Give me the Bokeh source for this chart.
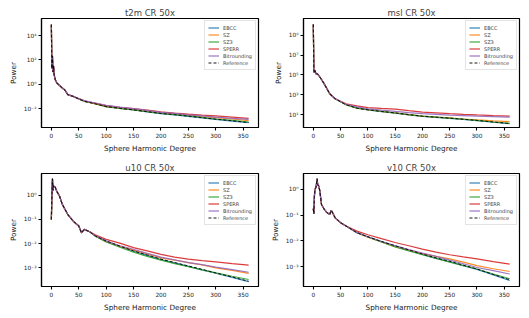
from bokeh.plotting import figure
from bokeh.layouts import gridplot
from bokeh.models import FixedTicker, CustomJSTickFormatter, Range1d, Legend, LegendItem
from bokeh.embed import file_html
from bokeh.resources import INLINE

# ---------------- data ----------------
methods = ["EBCC", "SZ", "SZ3", "SPERR", "Bitrounding", "Reference"]
method_colors = ["#1f77b4", "#ff7f0e", "#2ca02c", "#d62728", "#9467bd", "#000000"]
x_ticks = [0, 50, 100, 150, 200, 250, 300, 350]

t2m_degree = [0, 1, 2, 3, 4, 5, 7, 10, 15, 20, 25, 30, 40, 50, 60, 70, 80, 100, 125, 150, 175, 200, 225, 250, 275, 300, 330, 360]
t2m_ebcc = [7.9e4, 20, 200, 10, 32, 6.3, 2.5, 1.26, 0.79, 0.5, 0.32, 0.14, 0.1, 0.063, 0.04, 0.032, 0.025, 0.0146, 0.0105, 0.0078, 0.0055, 0.0039, 0.0031, 0.0023, 0.0017, 0.0013, 0.00095, 0.0007]
t2m_sz = [7.9e4, 20, 200, 10, 32, 6.3, 2.5, 1.26, 0.79, 0.5, 0.32, 0.14, 0.1, 0.063, 0.04, 0.031, 0.024, 0.0142, 0.0105, 0.0081, 0.006, 0.0045, 0.0037, 0.0029, 0.0022, 0.0018, 0.0014, 0.00105]
t2m_sz3 = [7.9e4, 20, 200, 10, 32, 6.3, 2.5, 1.26, 0.79, 0.5, 0.32, 0.14, 0.1, 0.063, 0.04, 0.032, 0.025, 0.0146, 0.0106, 0.0079, 0.0056, 0.0041, 0.0032, 0.0025, 0.0019, 0.0014, 0.0011, 0.0008]
t2m_sperr = [7.9e4, 20, 200, 10, 32, 6.3, 2.5, 1.26, 0.79, 0.5, 0.32, 0.14, 0.1, 0.066, 0.044, 0.035, 0.028, 0.0175, 0.013, 0.01, 0.0075, 0.0054, 0.0043, 0.0035, 0.0029, 0.0025, 0.002, 0.0016]
t2m_bitrounding = [7.9e4, 20, 200, 10, 32, 6.3, 2.5, 1.26, 0.79, 0.5, 0.32, 0.14, 0.1, 0.066, 0.045, 0.036, 0.029, 0.019, 0.0135, 0.01, 0.0072, 0.005, 0.004, 0.0031, 0.0025, 0.002, 0.0016, 0.0013]
t2m_reference = [7.9e4, 20, 200, 10, 32, 6.3, 2.5, 1.26, 0.79, 0.5, 0.32, 0.14, 0.1, 0.063, 0.04, 0.032, 0.025, 0.0148, 0.0107, 0.0079, 0.0056, 0.004, 0.0032, 0.0024, 0.0018, 0.00135, 0.001, 0.00072]
t2m_yticks = [1e-2, 1e0, 1e2, 1e4]

msl_degree = [0, 1, 2, 3, 5, 7, 10, 15, 20, 25, 30, 40, 50, 60, 80, 100, 125, 150, 175, 200, 225, 250, 275, 300, 330, 360]
msl_ebcc = [1.26e10, 3.2e5, 1.6e5, 2.8e5, 1.26e5, 1.4e5, 8.9e4, 3.5e4, 1.26e4, 4.0e3, 1.26e3, 400, 200, 100, 44, 30, 20, 14.2, 9.6, 6.6, 5.3, 4.2, 3.3, 2.5, 1.7, 1.2]
msl_sz = [1.26e10, 3.2e5, 1.6e5, 2.8e5, 1.26e5, 1.4e5, 8.9e4, 3.5e4, 1.26e4, 4.0e3, 1.26e3, 400, 200, 100, 45, 31, 21, 14.8, 10.2, 7.0, 5.6, 4.6, 3.6, 2.9, 2.3, 1.95]
msl_sz3 = [1.26e10, 3.2e5, 1.6e5, 2.8e5, 1.26e5, 1.4e5, 8.9e4, 3.5e4, 1.26e4, 4.0e3, 1.26e3, 400, 200, 100, 45, 31, 21, 14.6, 10, 6.9, 5.5, 4.4, 3.4, 2.6, 1.8, 1.3]
msl_sperr = [1.26e10, 3.2e5, 1.6e5, 2.8e5, 1.26e5, 1.4e5, 8.9e4, 3.5e4, 1.26e4, 4.0e3, 1.26e3, 400, 224, 126, 76, 51, 42, 35.5, 25, 18.2, 15.1, 12.6, 10.7, 9.3, 7.9, 6.9]
msl_bitrounding = [1.26e10, 3.2e5, 1.6e5, 2.8e5, 1.26e5, 1.4e5, 8.9e4, 3.5e4, 1.26e4, 4.0e3, 1.26e3, 400, 214, 112, 60, 38, 28, 21, 15.8, 12.6, 10.5, 8.7, 7.8, 6.9, 6.2, 5.5]
msl_reference = [1.26e10, 3.2e5, 1.6e5, 2.8e5, 1.26e5, 1.4e5, 8.9e4, 3.5e4, 1.26e4, 4.0e3, 1.26e3, 400, 200, 100, 45, 31, 21, 14.8, 10, 6.9, 5.5, 4.4, 3.4, 2.6, 1.8, 1.26]
msl_yticks = [1e1, 1e3, 1e5, 1e7, 1e9]

u10_degree = [0, 1, 2, 3, 4, 5, 7, 8, 10, 15, 20, 25, 30, 40, 50, 55, 60, 70, 80, 100, 125, 150, 175, 200, 225, 250, 275, 300, 330, 360]
u10_ebcc = [0.1, 1.0, 4.8, 1.6, 2.5, 2.1, 2.2, 1.86, 1.45, 0.91, 0.42, 0.26, 0.16, 0.085, 0.054, 0.028, 0.039, 0.031, 0.021, 0.0127, 0.0078, 0.0049, 0.0033, 0.0022, 0.0016, 0.00115, 0.00083, 0.0006, 0.0004, 0.00027]
u10_sz = [0.1, 1.0, 4.8, 1.6, 2.5, 2.1, 2.2, 1.86, 1.45, 0.91, 0.42, 0.26, 0.16, 0.085, 0.054, 0.028, 0.039, 0.031, 0.021, 0.012, 0.0079, 0.0054, 0.0038, 0.0026, 0.0021, 0.00166, 0.00132, 0.001, 0.00079, 0.00059]
u10_sz3 = [0.1, 1.0, 4.8, 1.6, 2.5, 2.1, 2.2, 1.86, 1.45, 0.91, 0.42, 0.26, 0.16, 0.085, 0.054, 0.028, 0.039, 0.031, 0.0205, 0.0117, 0.0071, 0.0044, 0.003, 0.0021, 0.0015, 0.00112, 0.00083, 0.00062, 0.00045, 0.00033]
u10_sperr = [0.1, 1.0, 4.8, 1.6, 2.5, 2.1, 2.2, 1.86, 1.45, 0.91, 0.42, 0.26, 0.16, 0.085, 0.054, 0.028, 0.039, 0.031, 0.0234, 0.0151, 0.0105, 0.0069, 0.005, 0.0036, 0.0028, 0.0023, 0.002, 0.00178, 0.0015, 0.00129]
u10_bitrounding = [0.1, 1.0, 4.8, 1.6, 2.5, 2.1, 2.2, 1.86, 1.45, 0.91, 0.42, 0.26, 0.16, 0.085, 0.054, 0.028, 0.039, 0.031, 0.021, 0.0128, 0.0082, 0.0059, 0.004, 0.0028, 0.00214, 0.00166, 0.00135, 0.00107, 0.00085, 0.00066]
u10_reference = [0.1, 1.0, 4.8, 1.6, 2.5, 2.1, 2.2, 1.86, 1.45, 0.91, 0.42, 0.26, 0.16, 0.085, 0.054, 0.028, 0.039, 0.031, 0.021, 0.0129, 0.0079, 0.005, 0.0034, 0.0023, 0.00166, 0.0012, 0.00087, 0.00062, 0.00042, 0.00028]
u10_yticks = [1e-3, 1e-2, 1e-1, 1e0]

v10_degree = [0, 1, 2, 3, 5, 7, 8, 10, 12, 15, 20, 25, 30, 33, 40, 50, 60, 80, 100, 125, 150, 175, 200, 225, 250, 275, 300, 330, 360]
v10_ebcc = [0.18, 0.115, 0.55, 1.0, 1.23, 2.6, 1.55, 1.35, 0.87, 0.26, 0.17, 0.126, 0.107, 0.155, 0.079, 0.051, 0.038, 0.021, 0.0143, 0.0094, 0.0064, 0.0044, 0.003, 0.0021, 0.00155, 0.0011, 0.00078, 0.00048, 0.00029]
v10_sz = [0.18, 0.115, 0.55, 1.0, 1.23, 2.6, 1.55, 1.35, 0.87, 0.26, 0.17, 0.126, 0.107, 0.155, 0.079, 0.051, 0.038, 0.021, 0.0141, 0.0091, 0.006, 0.0043, 0.0032, 0.0025, 0.002, 0.0015, 0.0011, 0.00083, 0.00065]
v10_sz3 = [0.18, 0.115, 0.55, 1.0, 1.23, 2.6, 1.55, 1.35, 0.87, 0.26, 0.17, 0.126, 0.107, 0.155, 0.079, 0.051, 0.038, 0.021, 0.0142, 0.0092, 0.0058, 0.0041, 0.0029, 0.0021, 0.0015, 0.0011, 0.00081, 0.00052, 0.00034]
v10_sperr = [0.18, 0.115, 0.55, 1.0, 1.23, 2.6, 1.55, 1.35, 0.87, 0.26, 0.17, 0.126, 0.107, 0.155, 0.079, 0.051, 0.038, 0.024, 0.0174, 0.0123, 0.0087, 0.0065, 0.0048, 0.0037, 0.0029, 0.0024, 0.002, 0.00158, 0.00126]
v10_bitrounding = [0.18, 0.115, 0.55, 1.0, 1.23, 2.6, 1.55, 1.35, 0.87, 0.26, 0.17, 0.126, 0.107, 0.155, 0.079, 0.051, 0.038, 0.021, 0.0145, 0.0095, 0.0065, 0.0046, 0.0034, 0.0025, 0.0018, 0.0013, 0.00093, 0.0007, 0.00052]
v10_reference = [0.18, 0.115, 0.55, 1.0, 1.23, 2.6, 1.55, 1.35, 0.87, 0.26, 0.17, 0.126, 0.107, 0.155, 0.079, 0.051, 0.038, 0.021, 0.0145, 0.0095, 0.0065, 0.0045, 0.0031, 0.0022, 0.00162, 0.00115, 0.00081, 0.0005, 0.00031]
v10_yticks = [1e-3, 1e-2, 1e-1, 1e0]

FONT = "DejaVu Sans"

sup_formatter_code = """
const sup = {"-":"\u207b","0":"\u2070","1":"\u00b9","2":"\u00b2","3":"\u00b3","4":"\u2074","5":"\u2075","6":"\u2076","7":"\u2077","8":"\u2078","9":"\u2079"};
const e = Math.round(Math.log10(tick));
return "10" + String(e).split("").map(c => sup[c]).join("");
"""


def make_panel(title, degree, series, yticks, ylim, width, height, bl, br, bt, bb):
    p = figure(width=width, height=height, y_axis_type="log",
               x_range=Range1d(-18, 378), y_range=Range1d(*ylim),
               output_backend="svg", toolbar_location=None,
               min_border_left=bl, min_border_right=br,
               min_border_top=bt, min_border_bottom=bb)
    p.title.text = title
    p.title.align = "center"
    p.title.text_font = FONT
    p.title.text_font_size = "8.5px"
    p.title.text_font_style = "normal"
    p.title.standoff = 1
    p.title.offset = 0
    p.xgrid.visible = False
    p.ygrid.visible = False
    p.outline_line_color = "#000000"
    p.outline_line_width = 1.2
    p.outline_line_alpha = 1.0
    p.background_fill_color = "white"
    p.border_fill_color = "white"

    p.xaxis.ticker = FixedTicker(ticks=x_ticks)
    p.yaxis.ticker = FixedTicker(ticks=yticks)
    p.yaxis.formatter = CustomJSTickFormatter(code=sup_formatter_code)
    p.xaxis.axis_label = "Sphere Harmonic Degree"
    p.yaxis.axis_label = "Power"
    for ax in (p.xaxis, p.yaxis):
        ax.axis_label_text_font = FONT
        ax.axis_label_text_font_size = "7.3px"
        ax.axis_label_text_font_style = "normal"
        ax.axis_label_text_color = "#222222"
        ax.major_label_text_font = FONT
        ax.major_label_text_font_size = "5.8px"
        ax.major_label_text_color = "#222222"
        ax.axis_line_color = "#000000"
        ax.axis_line_width = 1.2
        ax.axis_line_alpha = 1.0
        ax.major_tick_line_color = "#000000"
        ax.major_tick_line_width = 1.1
        ax.major_tick_line_alpha = 1.0
        ax.major_tick_out = 3
        ax.major_tick_in = 0
        ax.minor_tick_line_color = None
        ax.major_label_standoff = 2
        ax.axis_label_standoff = 3

    items = []
    for name, color, ys in zip(methods, method_colors, series):
        if name == "Reference":
            r = p.line(degree, ys, line_color=color, line_width=0.9, line_dash="3 2")
        else:
            r = p.line(degree, ys, line_color=color, line_width=1.2, line_alpha=0.9)
        items.append(LegendItem(label=name, renderers=[r]))
    legend = Legend(items=items, location="top_right",
                    label_text_font=FONT, label_text_font_size="5px",
                    label_height=7, glyph_height=7, glyph_width=11,
                    label_standoff=4, spacing=0, padding=3, margin=2,
                    border_line_color="#c8c8c8", border_line_width=1.1,
                    background_fill_color="white", background_fill_alpha=0.8)
    p.add_layout(legend)
    return p


p1 = make_panel("t2m CR 50x", t2m_degree,
                [t2m_ebcc, t2m_sz, t2m_sz3, t2m_sperr, t2m_bitrounding, t2m_reference],
                t2m_yticks, (10 ** -3.55, 10 ** 5.4), 264, 155, 41, 6, 18, 23)
p2 = make_panel("msl CR 50x", msl_degree,
                [msl_ebcc, msl_sz, msl_sz3, msl_sperr, msl_bitrounding, msl_reference],
                msl_yticks, (10 ** -0.3, 10 ** 10.7), 264, 155, 39, 9, 18, 23)
p3 = make_panel("u10 CR 50x", u10_degree,
                [u10_ebcc, u10_sz, u10_sz3, u10_sperr, u10_bitrounding, u10_reference],
                u10_yticks, (10 ** -3.77, 10 ** 0.9), 264, 162, 41, 6, 18, 31)
p4 = make_panel("v10 CR 50x", v10_degree,
                [v10_ebcc, v10_sz, v10_sz3, v10_sperr, v10_bitrounding, v10_reference],
                v10_yticks, (10 ** -3.77, 10 ** 0.62), 264, 162, 37, 7, 18, 31)

grid = gridplot([[p1, p2], [p3, p4]], toolbar_location=None)

with open("out.html", "w", encoding="utf-8") as f:
    f.write(file_html(grid, INLINE))
